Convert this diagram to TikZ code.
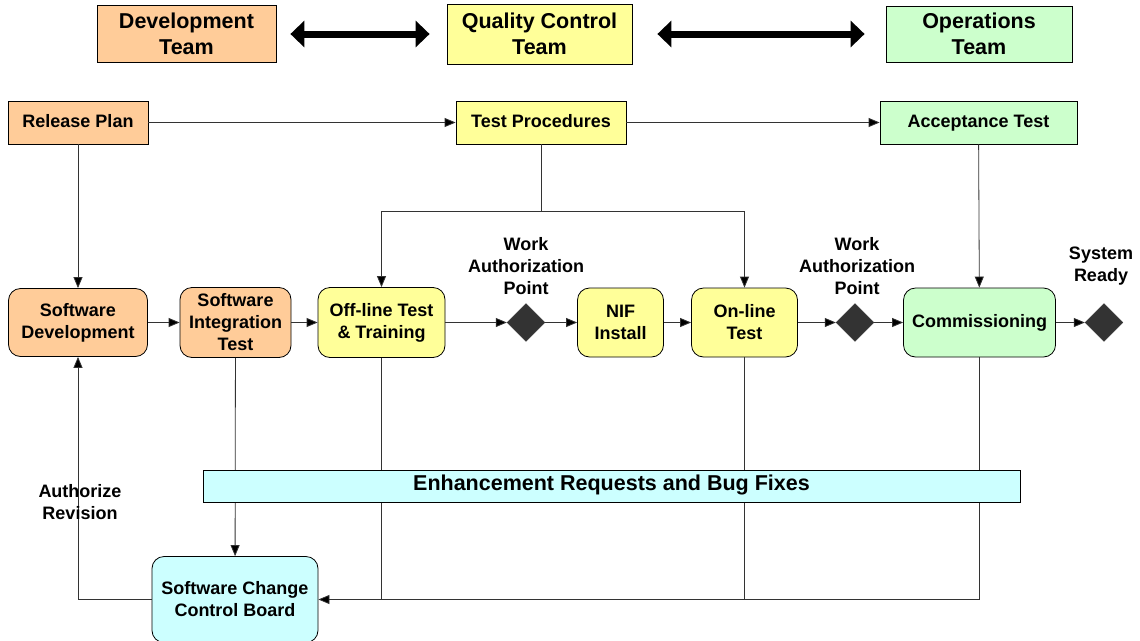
\documentclass[tikz,border=0pt]{standalone}
\usepackage{fontspec}
\setmainfont{Liberation Sans}
\usetikzlibrary{arrows.meta,shapes.geometric,calc}
\definecolor{orng}{HTML}{FFCC99}
\definecolor{ylw}{HTML}{FFFF99}
\definecolor{grn}{HTML}{CCFFCC}
\definecolor{cyn}{HTML}{CCFFFF}
\definecolor{dia}{HTML}{333333}
\definecolor{ln}{HTML}{333333}
\begin{document}
\begin{tikzpicture}[x=1pt,y=-1pt,
  box/.style={draw=black,line width=0.8pt,inner sep=0pt,align=center,font=\bfseries\fontsize{18}{22}\selectfont},
  hdr/.style={box,font=\bfseries\fontsize{21.5}{26}\selectfont},
  rbox/.style={box,rounded corners=12pt},
  one/.style={text height=13pt,text depth=4pt},
  dmd/.style={diamond,fill=dia,draw=dia,minimum width=38pt,minimum height=38pt,inner sep=0pt},
  lbl/.style={align=center,inner sep=0pt,font=\bfseries\fontsize{18}{22}\selectfont},
  con/.style={draw=ln,line width=0.8pt},
  arr/.style={con,-{Triangle[length=11pt,width=9pt,fill=black]}},
  big/.style={line width=7pt,{Triangle[length=14pt,width=26pt]}-{Triangle[length=14pt,width=26pt]}}
]
\useasboundingbox (0,0) rectangle (1140,640);
% header
\node[hdr,fill=orng,minimum width=179pt,minimum height=57pt] (dev) at (186.5,34) {Development\\Team};
\node[hdr,fill=ylw,minimum width=185pt,minimum height=60pt] (qc) at (539.5,34) {Quality Control\\Team};
\node[hdr,fill=grn,minimum width=186pt,minimum height=56pt] (ops) at (979,34) {Operations\\Team};
\draw[big,shorten <=14pt,shorten >=17pt] (dev) -- (qc);
\draw[big,shorten <=25pt,shorten >=21pt] (qc) -- (ops);
% row 2
\node[box,one,fill=orng,minimum width=140pt,minimum height=43pt] (rp) at (78,122.5) {Release Plan};
\node[box,one,fill=ylw,minimum width=170pt,minimum height=43pt] (tp) at (541,122.5) {Test Procedures};
\node[box,one,fill=grn,minimum width=197pt,minimum height=43pt] (at) at (978.5,122.5) {Acceptance Test};
% middle row
\node[rbox,fill=orng,minimum width=139pt,minimum height=68pt] (sd) at (78,322.5) {Software\\Development};
\node[rbox,fill=orng,minimum width=111pt,minimum height=70pt] (sit) at (235.5,322.5) {Software\\Integration\\Test};
\node[rbox,fill=ylw,minimum width=127pt,minimum height=70pt] (off) at (381.5,322.5) {Off-line Test\\\& Training};
\node[dmd] (d1) at (526,322.5) {};
\node[rbox,fill=ylw,minimum width=86pt,minimum height=69pt] (nif) at (620.5,322.5) {NIF\\Install};
\node[rbox,fill=ylw,minimum width=106pt,minimum height=69pt] (on) at (744.5,322.5) {On-line\\Test};
\node[dmd] (d2) at (855,322.5) {};
\node[rbox,one,fill=grn,minimum width=152pt,minimum height=69pt] (comm) at (979.5,322.5) {Commissioning};
\node[dmd] (d3) at (1104,322.5) {};
\node[lbl] (l1) at (526,266) {Work\\Authorization\\Point};
\node[lbl] (l2) at (857,266) {Work\\Authorization\\Point};
\node[lbl] (l3) at (1101,266) {System\\Ready};
% bottom
\node[rbox,fill=cyn,minimum width=166pt,minimum height=86pt] (sccb) at (235,599.5) {Software Change\\Control Board};
% connectors
\draw[arr] (rp) -- (tp);
\draw[arr] (tp) -- (at);
\draw[arr] (rp) -- (sd);
\path (tp.south) ++(0,67) coordinate (j);
\draw[con] (tp) -- (j);
\draw[arr] (j) -| (off);
\draw[arr] (j) -| (on);
\draw[arr] (at) -- (comm);
\draw[arr] (sd) -- (sit);
\draw[arr] (sit) -- (off);
\draw[arr] (off) -- (d1);
\draw[arr] (d1) -- (nif);
\draw[arr] (nif) -- (on);
\draw[arr] (on) -- (d2);
\draw[arr] (d2) -- (comm);
\draw[arr] (comm) -- (d3);
\draw[arr] (sit) -- (sccb);
\draw[con] (off.south) -- (off.south |- sccb.east);
\draw[con] (on.south) -- (on.south |- sccb.east);
\draw[arr] (comm.south) |- (sccb.east);
\draw[arr] (sccb.west) -| (sd.south);
% bar on top of lines
\node[box,one,fill=cyn,minimum width=817pt,minimum height=32pt,font=\bfseries\fontsize{21.5}{26}\selectfont] (bar) at (611.5,486) {Enhancement Requests and Bug Fixes};
\node[lbl] (ar) at (80,502) {Authorize\\Revision};
\end{tikzpicture}
\end{document}
